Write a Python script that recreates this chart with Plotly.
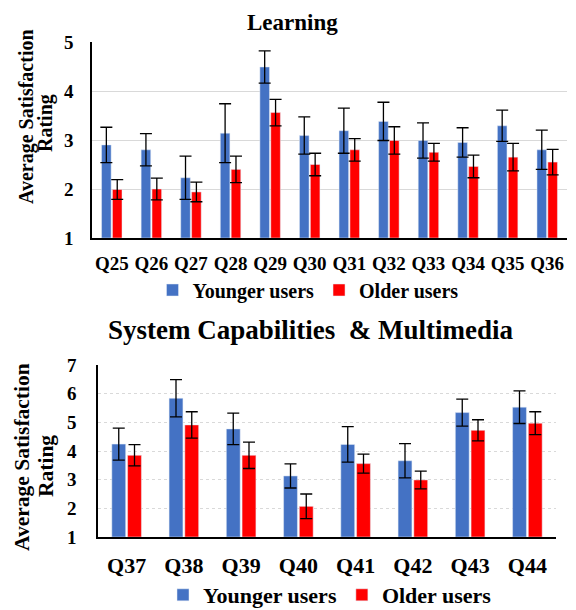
import plotly.graph_objects as go

# ---- data ----
learn_q = ["Q25", "Q26", "Q27", "Q28", "Q29", "Q30", "Q31", "Q32", "Q33", "Q34", "Q35", "Q36"]
learn_young = [2.90, 2.80, 2.23, 3.14, 4.49, 3.09, 3.19, 3.38, 2.99, 2.95, 3.29, 2.80]
learn_young_err = [0.36, 0.33, 0.44, 0.60, 0.33, 0.38, 0.46, 0.39, 0.36, 0.30, 0.32, 0.40]
learn_old = [1.99, 2.00, 1.94, 2.40, 3.56, 2.50, 2.80, 2.99, 2.75, 2.46, 2.65, 2.55]
learn_old_err = [0.20, 0.22, 0.20, 0.27, 0.27, 0.23, 0.23, 0.28, 0.18, 0.23, 0.28, 0.26]

sys_q = ["Q37", "Q38", "Q39", "Q40", "Q41", "Q42", "Q43", "Q44"]
sys_young = [4.24, 5.84, 4.77, 3.13, 4.23, 3.66, 5.34, 5.53]
sys_young_err = [0.56, 0.65, 0.55, 0.42, 0.62, 0.60, 0.47, 0.57]
sys_old = [3.85, 4.91, 3.85, 2.07, 3.56, 2.99, 4.72, 4.97]
sys_old_err = [0.37, 0.46, 0.46, 0.43, 0.33, 0.31, 0.37, 0.40]

series_names = ["Younger users", "Older users"]
title_top = "Learning"
title_bottom = "System Capabilities  & Multimedia"
y_title_l1 = "Average Satisfaction"
y_title_l2 = "Rating"

BLUE = "#4472C4"
RED = "#FF0000"
FONT = "Times New Roman, Liberation Serif, serif"

# the page body has an 8px margin, so the figure is drawn 8px in from the corner
OFF = 8
W, H = 576 - OFF, 610 - OFF


def px_x(v):
    return (v - OFF) / W


def px_y(v):
    return 1 - (v - OFF) / H


fig = go.Figure()

err_style = dict(type="data", color="black", thickness=1.3, width=6)

fig.add_trace(go.Bar(x=learn_q, y=[v - 1 for v in learn_young], base=1,
                     error_y=dict(array=learn_young_err, **err_style),
                     marker_color=BLUE, name=series_names[0],
                     xaxis="x", yaxis="y", legend="legend", offsetgroup="a"))
fig.add_trace(go.Bar(x=learn_q, y=[v - 1 for v in learn_old], base=1,
                     error_y=dict(array=learn_old_err, **err_style),
                     marker_color=RED, name=series_names[1],
                     xaxis="x", yaxis="y", legend="legend", offsetgroup="b"))
fig.add_trace(go.Bar(x=sys_q, y=[v - 1 for v in sys_young], base=1,
                     error_y=dict(array=sys_young_err, **err_style),
                     marker_color=BLUE, name=series_names[0],
                     xaxis="x2", yaxis="y2", legend="legend2", offsetgroup="c"))
fig.add_trace(go.Bar(x=sys_q, y=[v - 1 for v in sys_old], base=1,
                     error_y=dict(array=sys_old_err, **err_style),
                     marker_color=RED, name=series_names[1],
                     xaxis="x2", yaxis="y2", legend="legend2", offsetgroup="d"))

ytickfont = dict(family=FONT, size=19, color="black", weight="bold")
xtickfont = dict(family=FONT, size=19, color="black", weight="bold")
xtickfont2 = dict(family=FONT, size=22, color="black", weight="bold")


def ann(text, x, y, size, angle=0, yanchor="middle"):
    return dict(text=text, x=px_x(x), y=px_y(y), xref="paper", yref="paper",
                xanchor="center", yanchor=yanchor, showarrow=False, textangle=angle,
                font=dict(family=FONT, size=size, weight="bold", color="black"))


fig.update_layout(
    width=W, height=H,
    margin=dict(l=0, r=0, t=0, b=0, autoexpand=False),
    paper_bgcolor="white", plot_bgcolor="white",
    barmode="group", bargap=0.45, bargroupgap=0.12,
    font=dict(family=FONT, color="black"),
    xaxis=dict(domain=[px_x(92), px_x(567)], anchor="y", showline=True,
               linecolor="black", linewidth=1.5, tickfont=xtickfont,
               ticks="", ticklabelstandoff=7, showgrid=False, automargin=False),
    yaxis=dict(domain=[px_y(238), px_y(42)], anchor="x", range=[1, 5],
               dtick=1, showline=True, linecolor="black", linewidth=1.5,
               gridcolor="#D9D9D9", gridwidth=1, tickfont=ytickfont,
               ticklabelstandoff=13, zeroline=False, automargin=False),
    xaxis2=dict(domain=[px_x(98), px_x(556)], anchor="y2", showline=True,
                linecolor="black", linewidth=1.5, tickfont=xtickfont2,
                ticks="", ticklabelstandoff=8, showgrid=False, automargin=False),
    yaxis2=dict(domain=[px_y(537), px_y(365)], anchor="x2", range=[1, 7],
                dtick=1, showline=True, linecolor="black", linewidth=1.5,
                gridcolor="#D9D9D9", gridwidth=1, griddash="dot",
                tickfont=ytickfont, ticklabelstandoff=16, zeroline=False,
                automargin=False),
    legend=dict(orientation="h", x=px_x(308), xanchor="center", y=px_y(290),
                yanchor="middle", bgcolor="rgba(0,0,0,0)",
                font=dict(family=FONT, size=20, weight="bold"),
                itemwidth=30, tracegroupgap=0, traceorder="normal"),
    legend2=dict(orientation="h", x=px_x(330), xanchor="center", y=px_y(595),
                 yanchor="middle", bgcolor="rgba(0,0,0,0)",
                 font=dict(family=FONT, size=22, weight="bold"),
                 itemwidth=30, tracegroupgap=0, traceorder="normal"),
    annotations=[
        ann(title_top, 292, OFF, 23, yanchor="top"),
        ann(title_bottom, 310, 330, 27),
        ann(y_title_l1, 26, 117, 20, -90),
        ann(y_title_l2, 46, 123, 20, -90),
        ann(y_title_l1, 22, 457, 21.5, -90),
        ann(y_title_l2, 46, 466, 21.5, -90),
    ],
)

fig.write_html("out.html")
